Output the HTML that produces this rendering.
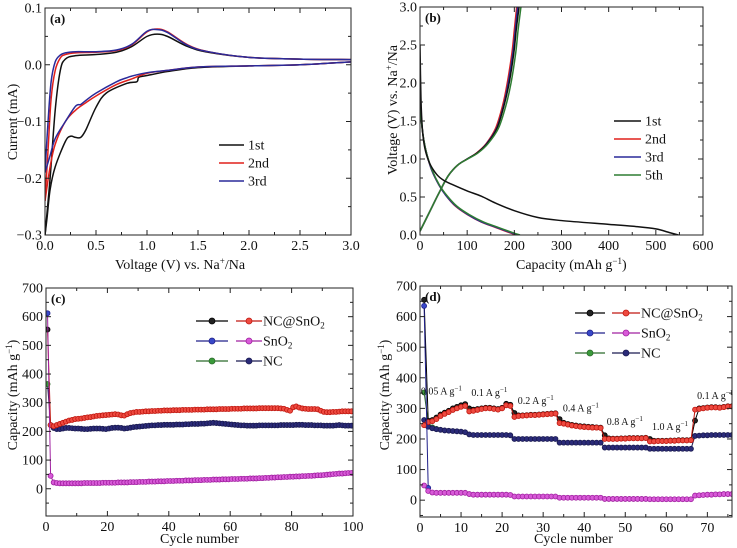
<!DOCTYPE html>
<html><head><meta charset="utf-8">
<style>
html,body{margin:0;padding:0;background:#fff;}
svg{display:block;font-family:"Liberation Serif",serif;}
</style></head>
<body>
<svg id="fig" width="737" height="548" viewBox="0 0 737 548" xmlns="http://www.w3.org/2000/svg"></svg>
<script>
// ---- Panel (a) CV data ----
const cv1UpV=[0.0,0.05,0.1,0.15,0.2,0.3,0.5,0.7,0.85,1.0,1.1,1.2,1.4,1.6,2.0,2.5,3.0];
const cv1UpI=[-0.3,-0.2,-0.08,-0.01,0.01,0.016,0.018,0.022,0.032,0.05,0.054,0.05,0.032,0.022,0.013,0.01,0.009];
const cv1DnV=[3.0,2.5,2.0,1.5,1.2,1.0,0.92,0.9,0.8,0.6,0.5,0.4,0.35,0.3,0.25,0.2,0.1,0.05,0.02,0.0];
const cv1DnI=[0.005,0.0,-0.002,-0.005,-0.012,-0.019,-0.022,-0.03,-0.033,-0.05,-0.075,-0.115,-0.128,-0.128,-0.126,-0.135,-0.18,-0.22,-0.27,-0.3];
const cv2UpV=[0,0.03,0.06,0.1,0.15,0.2,0.3,0.5,0.7,0.85,1.0,1.1,1.2,1.4,1.6,2.0,2.5,3.0];
const cv2UpI=[-0.24,-0.15,-0.06,-0.01,0.012,0.018,0.021,0.022,0.025,0.035,0.058,0.063,0.058,0.035,0.023,0.013,0.01,0.009];
const cv2DnV=[3.0,2.5,2.0,1.5,1.2,1.0,0.85,0.7,0.5,0.4,0.3,0.2,0.1,0.05,0.0];
const cv2DnI=[0.005,0,-0.002,-0.004,-0.01,-0.015,-0.025,-0.035,-0.055,-0.067,-0.08,-0.1,-0.14,-0.18,-0.24];
const cv3UpV=[0,0.03,0.06,0.1,0.15,0.2,0.3,0.5,0.7,0.85,1.0,1.1,1.2,1.4,1.6,2.0,2.5,3.0];
const cv3UpI=[-0.19,-0.1,-0.03,0.005,0.017,0.021,0.023,0.023,0.026,0.036,0.059,0.062,0.057,0.034,0.023,0.013,0.01,0.009];
const cv3DnV=[3.0,2.5,2.0,1.5,1.2,1.0,0.85,0.8,0.7,0.5,0.4,0.35,0.3,0.2,0.1,0.05,0];
const cv3DnI=[0.005,0,-0.002,-0.004,-0.01,-0.014,-0.02,-0.023,-0.03,-0.05,-0.063,-0.07,-0.073,-0.1,-0.13,-0.16,-0.19];
// ---- Panel (b) GCD data ----
const d1Cap=[0,2,5,10,20,35,50,70,100,130,160,200,250,300,400,460,500,530,548];
const d1V=[2.5,1.8,1.4,1.15,0.95,0.8,0.72,0.66,0.58,0.51,0.42,0.32,0.23,0.19,0.14,0.11,0.08,0.03,0];
const dOthV=[1.8,1.5,1.25,1.05,0.85,0.66,0.52,0.38,0.27,0.17,0.1,0.03,0];
const d2Cap=[0,3,8,15,25,40,55,75,100,130,160,190,205];
const d3Cap=[0,3,8,15,25,40,55,76,101,131,162,193,208];
const d5Cap=[0,3,8,15,26,41,57,78,104,135,166,197,212];
const chV=[0.05,0.3,0.55,0.78,0.92,1.0,1.08,1.2,1.4,1.7,2.0,2.4,2.7,3.0];
const c1Cap=[0,20,40,60,80,100,121,142,163,178,189,199,204,210];
const c2Cap=[0,20,40,60,80,100,120,140,160,175,185,195,200,205];
const c3Cap=[0,20,40,60,80,100,121,141,162,177,187,197,202,207];
const c5Cap=[0,20,40,60,80,101,123,144,166,182,193,203,208,214];
// ---- Panel (c) cycling data ----
const cNcSno2=[555,222,218,222,226,230,234,238,240,243,244,245,247,249,250,252,254,255,256,257,258,259,260,259,256,255,260,264,266,268,268,269,270,270,271,271,272,272,273,273,273,274,274,274,275,275,275,275,276,276,276,276,277,277,277,277,278,278,278,278,279,279,279,279,280,280,280,280,280,281,281,281,281,281,281,281,280,279,275,272,284,287,283,280,279,278,278,278,277,272,268,267,267,268,268,269,270,270,270,270];
const cSno2=[612,45,22,20,19,19,19,19,19,19,19,19,20,20,20,20,20,20,21,21,21,21,21,22,22,22,22,23,23,23,24,24,24,25,25,25,26,26,26,27,27,27,28,28,28,29,29,29,30,30,30,31,31,31,32,32,32,33,33,33,34,34,34,35,35,35,36,36,36,37,37,38,38,39,39,40,40,41,41,42,42,43,43,44,44,45,45,46,47,47,48,49,50,51,52,53,53,54,55,55];
const cNc=[365,222,212,208,208,210,212,212,211,210,210,209,208,208,209,210,210,210,209,208,210,212,213,213,212,210,211,213,215,216,217,218,219,220,221,221,222,222,223,223,223,223,224,224,224,225,225,226,226,226,227,227,228,229,230,229,228,227,226,225,224,223,222,221,221,220,220,220,220,221,221,221,221,221,221,221,222,222,222,222,222,223,223,223,222,222,222,221,221,221,220,220,220,220,221,222,221,220,220,220];
// ---- Panel (d) rate data ----
const dNcSno2Dis=[655,260,262,270,280,286,292,300,305,310,314,300,296,298,300,302,302,300,298,302,315,312,285,277,277,278,279,279,280,281,282,283,284,265,253,249,246,244,242,241,240,239,238,237,212,202,201,201,202,202,203,203,203,203,204,200,194,194,194,194,195,195,196,196,196,197,260,300,301,303,304,304,303,305,307,307];
const dNcSno2Chg=[245,255,258,265,275,282,288,295,300,305,308,290,292,295,298,300,300,298,296,300,310,308,272,275,276,277,278,278,279,280,281,282,283,252,250,247,244,242,240,239,238,237,237,236,200,200,200,200,201,201,202,202,202,202,203,192,192,193,193,193,194,194,195,195,195,196,296,298,300,302,303,303,302,304,306,306];
const dSno2Dis=[635,40];
const dSno2Chg=[48,30,25,24,24,24,24,24,24,24,24,20,18,18,18,18,18,18,18,18,18,17,12,12,12,12,12,12,12,12,12,12,12,8,8,8,8,8,8,8,8,8,8,8,4,4,4,4,4,4,4,4,4,4,4,3,3,3,3,3,3,3,3,3,3,3,15,16,17,18,18,19,19,20,20,20];
const dNcDis=[352,255,238,233];
const dNcChg=[262,240,235,232,230,228,227,226,225,224,222,215,213,213,213,213,213,213,213,213,213,212,200,200,200,200,200,200,200,200,200,200,200,188,188,188,188,188,188,188,188,188,188,188,172,172,172,172,172,172,172,172,172,172,172,168,168,168,168,168,168,168,168,168,168,168,210,211,212,212,213,213,213,213,213,213];
const rateLabels=["0.05","0.1","0.2","0.4","0.8","1.0","0.1"];
const rateLabelX=[0.2,12.5,23.8,34.8,45.5,56.5,67.5];
const rateLabelY=[345,340,315,290,245,230,330];

const NS="http://www.w3.org/2000/svg";
const svg=document.getElementById('fig');
function el(tag,attrs,parent){const e=document.createElementNS(NS,tag);for(const k in attrs)e.setAttribute(k,attrs[k]);(parent||svg).appendChild(e);return e;}
function txt(s,x,y,opts,parent){const t=el('text',Object.assign({x:x,y:y,'font-size':14,fill:'#111'},opts||{}),parent);t.textContent=s;return t;}

function makeAxes(c){
  const g=el('g',{});
  
  
  c.sx=v=>c.x0+(v-c.xmin)/(c.xmax-c.xmin)*(c.x1-c.x0);
  c.sy=v=>c.y1-(v-c.ymin)/(c.ymax-c.ymin)*(c.y1-c.y0);
  c.g=g;
  const clip=el('clipPath',{id:c.name+'-clip'},g);
  el('rect',{x:c.x0,y:c.y0,width:c.x1-c.x0,height:c.y1-c.y0},clip);
  c.plot=el('g',{'clip-path':'url(#'+c.name+'-clip)'},g);
  
  
  const k0x=Math.ceil(c.xmin/c.xminor-1e-6),k1x=Math.floor(c.xmax/c.xminor+1e-6);
  const ratX=Math.round(c.xmajor/c.xminor);
  for(let k=k0x;k<=k1x;k++){
    const v=k*c.xminor;const X=c.sx(v);const major=(k%ratX===0);
    const L=major?5:3;
    el('line',{x1:X,x2:X,y1:c.y1,y2:c.y1-L,stroke:'#222','stroke-width':1},g);
    el('line',{x1:X,x2:X,y1:c.y0,y2:c.y0+L,stroke:'#222','stroke-width':1},g);
    if(major&&v<=c.xlabmax+1e-9){const t=txt(c.xfmt(v),X,c.y1+15,{'text-anchor':'middle'},g);
      }
  }
  const k0y=Math.ceil(c.ymin/c.yminor-1e-6),k1y=Math.floor(c.ymax/c.yminor+1e-6);
  const ratY=Math.round(c.ymajor/c.yminor);
  for(let k=k0y;k<=k1y;k++){
    const v=k*c.yminor;const Y=c.sy(v);const major=(((k%ratY)+ratY)%ratY===0);
    const L=major?5:3;
    el('line',{x1:c.x0,x2:c.x0+L,y1:Y,y2:Y,stroke:'#222','stroke-width':1},g);
    el('line',{x1:c.x1,x2:c.x1-L,y1:Y,y2:Y,stroke:'#222','stroke-width':1},g);
    if(major&&v>=c.ylabmin-1e-9){const t=txt(c.yfmt(v),c.x0-3,Y+4.5,{'text-anchor':'end'},g);
      }
  }
  const fr=el('rect',{x:c.x0,y:c.y0,width:c.x1-c.x0,height:c.y1-c.y0,fill:'none',stroke:'#222','stroke-width':1},g);
  
  const pl=txt(c.tag,c.x0+5,c.y0+15,{'font-weight':'bold','font-size':13},g);
  
  return c;
}
function smoothPath(pts){
  let d='M'+pts[0][0]+','+pts[0][1];
  for(let i=0;i<pts.length-1;i++){
    const p0=pts[i-1]||pts[i],p1=pts[i],p2=pts[i+1],p3=pts[i+2]||p2;
    const c1=[p1[0]+(p2[0]-p0[0])/6,p1[1]+(p2[1]-p0[1])/6];
    const c2=[p2[0]-(p3[0]-p1[0])/6,p2[1]-(p3[1]-p1[1])/6];
    d+='C'+c1[0]+','+c1[1]+' '+c2[0]+','+c2[1]+' '+p2[0]+','+p2[1];
  }
  return d;
}
function curve(c,xs,ys,color,name){
  const pts=xs.map((x,i)=>[c.sx(x),c.sy(ys[i])]);
  const p=el('path',{d:smoothPath(pts),fill:'none',stroke:color,'stroke-width':1.5},c.plot);
  
  
}
function series(c,ys,x0,color,stroke,name,firstColor,firstStroke){
  const g=el('g',{},c.plot);
  
  
  const pts=ys.map((y,i)=>[c.sx(x0+i),c.sy(y)]);
  el('polyline',{points:pts.map(p=>p.join(',')).join(' '),fill:'none',stroke:stroke,'stroke-width':1},g);
  pts.forEach((p,i)=>{
    const f=(i===0&&firstColor)?firstColor:color, s=(i===0&&firstStroke)?firstStroke:stroke;
    const m=el('circle',{cx:p[0],cy:p[1],r:2.5,fill:f,stroke:s,'stroke-width':0.8},g);
    
    
  });
}
function legendLine(x1,x2,y,color,label,g,name){
  const l=el('line',{x1:x1,x2:x2,y1:y,y2:y,stroke:color,'stroke-width':1.5},g);
  
  if(label){const t=txt(label,x2+4,y+4.5,{},g);}
}
function legendMarker(x1,x2,y,color,stroke,g,name){
  const l=el('line',{x1:x1,x2:x2,y1:y,y2:y,stroke:stroke,'stroke-width':1.2},g);
  
  el('circle',{cx:(x1+x2)/2,cy:y,r:3,fill:color,stroke:stroke,'stroke-width':0.8},g);
}
function legendText(s,x,y,g,name){
  const t=txt(s,x,y+4.5,{},g);return t;
}
const minus=v=>v<-1e-9?'\u2212'+Math.abs(v).toFixed(1):Math.abs(v).toFixed(1);

// ===== Panel a =====
const A=makeAxes({name:'panel-a',tag:'(a)',x0:45,x1:351,y0:8,y1:235,xmin:0,xmax:3,ymin:-0.3,ymax:0.1,xmajor:0.5,xminor:0.25,ymajor:0.1,yminor:0.05,xlabmax:3,ylabmin:-0.3,xfmt:v=>v.toFixed(1),yfmt:minus});
curve(A,cv1UpV,cv1UpI,'#111','cv-1st-anodic');curve(A,cv1DnV,cv1DnI,'#111','cv-1st-cathodic');
curve(A,cv2UpV,cv2UpI,'#e0201c','cv-2nd-anodic');curve(A,cv2DnV,cv2DnI,'#e0201c','cv-2nd-cathodic');
curve(A,cv3UpV,cv3UpI,'#2a2a9a','cv-3rd-anodic');curve(A,cv3DnV,cv3DnI,'#2a2a9a','cv-3rd-cathodic');
{const lg=el('g',{});
legendLine(219,244,145,'#111','1st',lg,'legend-a-1st');legendLine(219,244,163,'#e0201c','2nd',lg,'legend-a-2nd');legendLine(219,244,181,'#2a2a9a','3rd',lg,'legend-a-3rd');}
{const t=txt('Voltage (V) vs. Na',115,269,{},svg);
 const s=el('tspan',{'font-size':9,dy:-5},t);s.textContent='+';const s2=el('tspan',{dy:5},t);s2.textContent='/Na';}
{const t=txt('Current (mA)',0,0,{'text-anchor':'middle',transform:'translate(17,122) rotate(-90)'});}

// ===== Panel b =====
const B=makeAxes({name:'panel-b',tag:'(b)',x0:420,x1:703,y0:7,y1:235,xmin:0,xmax:600,ymin:0,ymax:3,xmajor:100,xminor:50,ymajor:0.5,yminor:0.25,xlabmax:600,ylabmin:0,xfmt:v=>String(v),yfmt:v=>v.toFixed(1)});
curve(B,d2Cap,dOthV,'#e0201c','discharge-2nd');curve(B,d3Cap,dOthV,'#2a2a9a','discharge-3rd');curve(B,d5Cap,dOthV,'#2e7d32','discharge-5th');
curve(B,c2Cap,chV,'#e0201c','charge-2nd');curve(B,c3Cap,chV,'#2a2a9a','charge-3rd');curve(B,c1Cap,chV,'#111','charge-1st');curve(B,c5Cap,chV,'#2e7d32','charge-5th');
curve(B,d1Cap,d1V,'#111','discharge-1st');
{const lg=el('g',{});
legendLine(614,641,121,'#111','1st',lg,'legend-b-1st');legendLine(614,641,139,'#e0201c','2nd',lg,'legend-b-2nd');legendLine(614,641,157,'#2a2a9a','3rd',lg,'legend-b-3rd');legendLine(614,641,175,'#2e7d32','5th',lg,'legend-b-5th');}
{const t=txt('Capacity (mAh g',516,269,{});
 const s=el('tspan',{'font-size':9,dy:-5},t);s.textContent='\u22121';const s2=el('tspan',{dy:5},t);s2.textContent=')';}
{const t=txt('Voltage (V) vs. Na',0,0,{'text-anchor':'middle',transform:'translate(397,110) rotate(-90)'});
 const s=el('tspan',{'font-size':9,dy:-5},t);s.textContent='+';const s2=el('tspan',{dy:5},t);s2.textContent='/Na';}

// ===== Panel c =====
const C=makeAxes({name:'panel-c',tag:'(c)',x0:46,x1:353,y0:288,y1:516,xmin:0,xmax:100,ymin:-95,ymax:700,xmajor:20,xminor:10,ymajor:100,yminor:50,xlabmax:100,ylabmin:0,xfmt:v=>String(v),yfmt:v=>String(Math.round(v))});
series(C,cNc,0.5,'#2a2a78','#1a1a50','nc-series-c','#3a9a3a','#2a6a2a');
series(C,cNcSno2,0.5,'#ee4a40','#c01810','nc-sno2-series-c','#222','#000');
series(C,cSno2,0.5,'#d85ad8','#a020a0','sno2-series-c','#3848c8','#20208a');
{const lg=el('g',{});
legendMarker(196,228,321,'#222','#000',lg,'legend-c-ncsno2-dis');legendMarker(236,262,321,'#ee4a40','#c01810',lg,'legend-c-ncsno2-chg');
const t=legendText('NC@SnO',263,321,lg,'legend-c-ncsno2-text');const s=el('tspan',{'font-size':9,dy:3},t);s.textContent='2';
legendMarker(196,228,341,'#3848c8','#20208a',lg,'legend-c-sno2-dis');legendMarker(236,262,341,'#d85ad8','#a020a0',lg,'legend-c-sno2-chg');
const t2=legendText('SnO',263,341,lg,'legend-c-sno2-text');const s2=el('tspan',{'font-size':9,dy:3},t2);s2.textContent='2';
legendMarker(196,228,361,'#3a9a3a','#2a6a2a',lg,'legend-c-nc-dis');legendMarker(236,262,361,'#2a2a78','#1a1a50',lg,'legend-c-nc-chg');
legendText('NC',263,361,lg,'legend-c-nc-text');}
{const t=txt('Cycle number',160,543,{});}
{const t=txt('Capacity (mAh g',0,0,{'text-anchor':'middle',transform:'translate(17,395) rotate(-90)'});
 const s=el('tspan',{'font-size':9,dy:-5},t);s.textContent='\u22121';const s2=el('tspan',{dy:5},t);s2.textContent=')';}

// ===== Panel d =====
const D=makeAxes({name:'panel-d',tag:'(d)',x0:420,x1:732,y0:286,y1:517,xmin:0,xmax:76,ymin:-55,ymax:700,xmajor:10,xminor:5,ymajor:100,yminor:50,xlabmax:70,ylabmin:0,xfmt:v=>String(v),yfmt:v=>String(Math.round(v))});
series(D,dNcDis,1,'#3a9a3a','#2a6a2a','nc-discharge-d');
series(D,dNcChg,1,'#2a2a78','#1a1a50','nc-charge-d');
series(D,dNcSno2Dis,1,'#222','#000','nc-sno2-discharge-d');
series(D,dNcSno2Chg,1,'#ee4a40','#c01810','nc-sno2-charge-d');
series(D,dSno2Dis,1,'#3848c8','#20208a','sno2-discharge-d');
series(D,dSno2Chg,1,'#d85ad8','#a020a0','sno2-charge-d');
rateLabels.forEach((s,i)=>{
  const t=txt(s+' A g',D.sx(rateLabelX[i]),D.sy(rateLabelY[i]),{'font-size':10});
  
  
  const sp=el('tspan',{'font-size':7,dy:-4},t);sp.textContent='\u22121';
});
{const lg=el('g',{});
legendMarker(575,605,313,'#222','#000',lg,'legend-d-ncsno2-dis');legendMarker(612,640,313,'#ee4a40','#c01810',lg,'legend-d-ncsno2-chg');
const t=legendText('NC@SnO',641,313,lg,'legend-d-ncsno2-text');const s=el('tspan',{'font-size':9,dy:3},t);s.textContent='2';
legendMarker(575,605,333,'#3848c8','#20208a',lg,'legend-d-sno2-dis');legendMarker(612,640,333,'#d85ad8','#a020a0',lg,'legend-d-sno2-chg');
const t2=legendText('SnO',641,333,lg,'legend-d-sno2-text');const s2=el('tspan',{'font-size':9,dy:3},t2);s2.textContent='2';
legendMarker(575,605,353,'#3a9a3a','#2a6a2a',lg,'legend-d-nc-dis');legendMarker(612,640,353,'#2a2a78','#1a1a50',lg,'legend-d-nc-chg');
legendText('NC',641,353,lg,'legend-d-nc-text');}
{const t=txt('Cycle number',534,543,{});}
{const t=txt('Capacity (mAh g',0,0,{'text-anchor':'middle',transform:'translate(389,395) rotate(-90)'});
 const s=el('tspan',{'font-size':9,dy:-5},t);s.textContent='\u22121';const s2=el('tspan',{dy:5},t);s2.textContent=')';}
</script>
</body></html>
